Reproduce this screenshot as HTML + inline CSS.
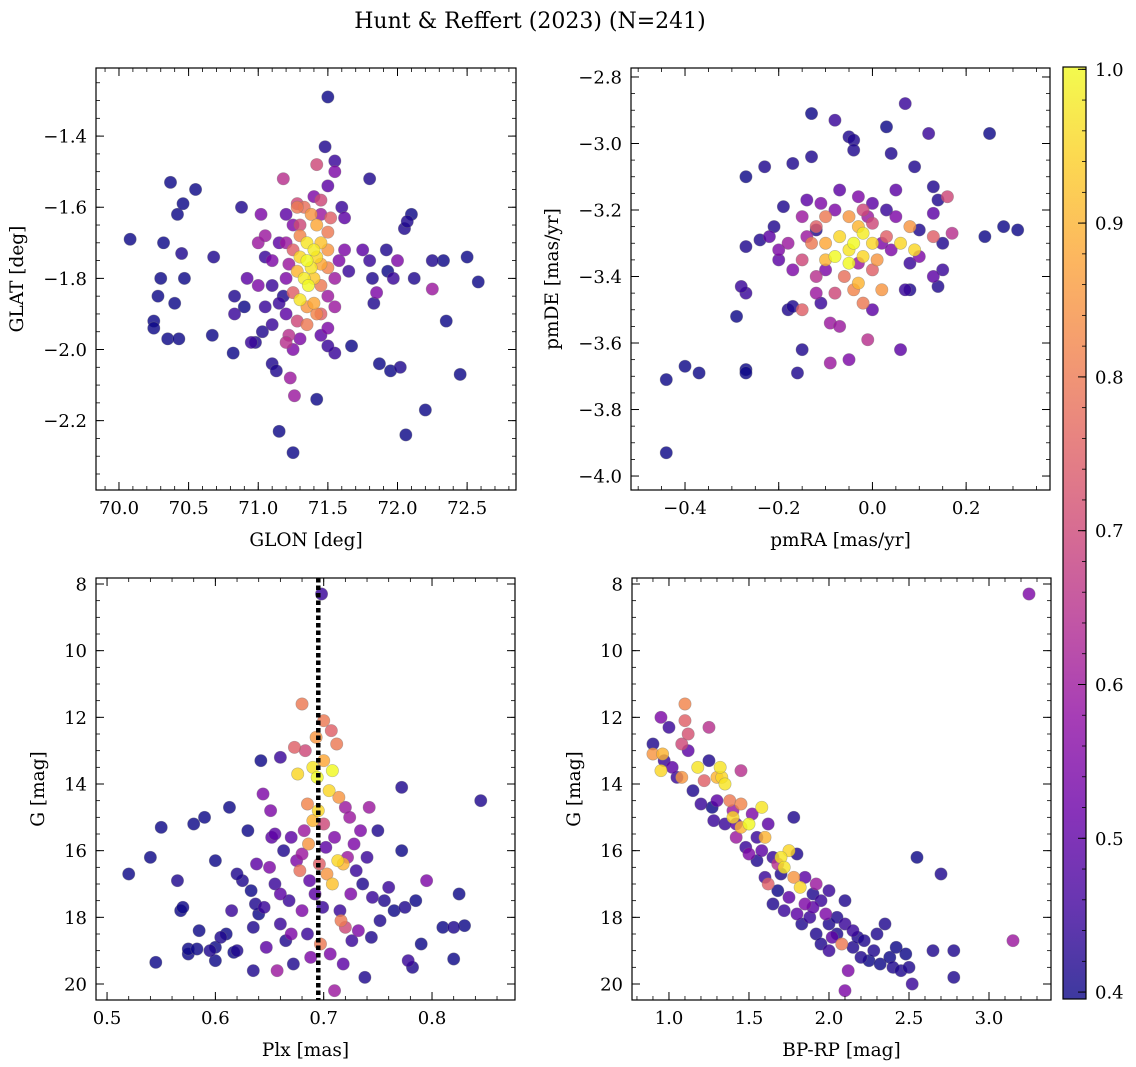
<!DOCTYPE html>
<html><head><meta charset="utf-8"><style>
html,body{margin:0;padding:0;background:#fff;}
svg{display:block;font-family:"DejaVu Serif","Liberation Serif",serif;}
</style></head><body>
<svg id="fig" width="1136" height="1067" viewBox="0 0 1136 1067" xmlns="http://www.w3.org/2000/svg">
<defs>
<linearGradient id="plasma" x1="0" y1="1" x2="0" y2="0">
<stop offset="0" stop-color="#0d0887"/><stop offset="0.1" stop-color="#41049d"/><stop offset="0.2" stop-color="#6a00a8"/><stop offset="0.3" stop-color="#8f0da4"/><stop offset="0.4" stop-color="#b12a90"/><stop offset="0.5" stop-color="#cc4778"/><stop offset="0.6" stop-color="#e16462"/><stop offset="0.7" stop-color="#f2844b"/><stop offset="0.8" stop-color="#fca636"/><stop offset="0.9" stop-color="#fcce25"/><stop offset="1" stop-color="#f0f921"/>
</linearGradient>
</defs>
<text x="530" y="28" font-size="22" text-anchor="middle">Hunt &amp; Reffert (2023) (N=241)</text>
</svg>
<script>
const glonGlat = [[70.08,-1.69,0.4],[70.25,-1.92,0.4],[70.25,-1.94,0.4],[70.28,-1.85,0.4],[70.3,-1.8,0.4],[70.32,-1.7,0.4],[70.35,-1.97,0.4],[70.37,-1.53,0.4],[70.4,-1.87,0.4],[70.42,-1.62,0.4],[70.43,-1.97,0.4],[70.45,-1.73,0.42],[70.46,-1.59,0.4],[70.47,-1.8,0.4],[70.55,-1.55,0.4],[70.67,-1.96,0.4],[70.68,-1.74,0.42],[70.82,-2.01,0.4],[70.83,-1.85,0.42],[70.83,-1.9,0.45],[70.88,-1.6,0.42],[70.9,-1.88,0.4],[70.92,-1.8,0.5],[70.95,-1.98,0.45],[70.98,-1.98,0.42],[71.0,-1.82,0.55],[71.02,-1.62,0.55],[71.0,-1.7,0.6],[71.03,-1.95,0.42],[71.05,-1.74,0.45],[71.05,-1.88,0.45],[71.1,-2.04,0.42],[71.13,-2.06,0.42],[71.15,-2.23,0.4],[71.18,-1.52,0.65],[71.2,-1.7,0.6],[71.22,-1.96,0.65],[71.23,-2.08,0.6],[71.25,-2.29,0.4],[71.26,-2.13,0.6],[71.28,-1.59,0.7],[71.3,-1.65,0.7],
[71.5,-1.29,0.4],[71.48,-1.43,0.42],[71.55,-1.47,0.45],[71.5,-1.54,0.5],[71.55,-1.5,0.55],[71.6,-1.6,0.45],[71.62,-1.63,0.5],[71.62,-1.72,0.55],[71.65,-1.78,0.45],[71.67,-1.99,0.4],[71.55,-2.01,0.45],[71.5,-1.99,0.45],[71.42,-2.14,0.4],[71.75,-1.72,0.5],[71.8,-1.52,0.42],[71.8,-1.75,0.45],[71.82,-1.8,0.42],[71.83,-1.87,0.42],[71.85,-1.84,0.55],[71.87,-2.04,0.4],[71.92,-1.72,0.42],[71.93,-1.78,0.4],[71.95,-2.06,0.4],[71.97,-1.8,0.45],[72.0,-1.75,0.55],[72.02,-2.05,0.42],[72.06,-2.24,0.4],[72.05,-1.66,0.42],[72.07,-1.64,0.42],[72.1,-1.62,0.4],[72.12,-1.8,0.42],[72.2,-2.17,0.4],[72.25,-1.75,0.42],[72.25,-1.83,0.6],[72.33,-1.75,0.4],[72.35,-1.92,0.4],[72.45,-2.07,0.4],[72.5,-1.74,0.4],[72.58,-1.81,0.4],[71.4,-1.57,0.55],[71.42,-1.48,0.7],
[71.2,-1.62,0.5],[71.25,-1.65,0.55],[71.28,-1.6,0.8],[71.33,-1.6,0.78],[71.38,-1.62,0.85],[71.42,-1.65,0.88],[71.45,-1.62,0.6],[71.3,-1.68,0.82],[71.35,-1.7,0.97],[71.4,-1.72,0.98],[71.45,-1.7,0.92],[71.5,-1.72,0.85],[71.25,-1.72,0.75],[71.3,-1.74,0.95],[71.35,-1.75,1.0],[71.38,-1.77,0.97],[71.42,-1.74,0.95],[71.45,-1.76,0.88],[71.5,-1.77,0.82],[71.22,-1.76,0.6],[71.28,-1.78,0.9],[71.33,-1.8,0.98],[71.36,-1.82,1.0],[71.4,-1.8,0.93],[71.45,-1.82,0.8],[71.2,-1.8,0.55],[71.25,-1.84,0.75],[71.3,-1.86,0.97],[71.35,-1.88,0.85],[71.4,-1.87,0.88],[71.45,-1.9,0.75],[71.5,-1.85,0.6],[71.15,-1.87,0.45],[71.2,-1.9,0.5],[71.28,-1.92,0.7],[71.35,-1.93,0.8],[71.42,-1.9,0.82],[71.5,-1.94,0.55],[71.55,-1.88,0.6],[71.3,-1.97,0.55],[71.2,-1.98,0.65],[71.25,-2.0,0.55],[71.45,-1.96,0.5],[71.55,-1.8,0.6],[71.58,-1.75,0.55],[71.1,-1.75,0.55],[71.15,-1.7,0.5],[71.1,-1.82,0.45],[71.05,-1.68,0.6],[71.45,-1.58,0.7],[71.5,-1.67,0.8],[71.52,-1.63,0.75],[71.18,-1.85,0.42],[71.1,-1.93,0.45]];
const pmRaDe = [[-0.44,-3.93,0.4],[-0.44,-3.71,0.4],[-0.4,-3.67,0.4],[-0.37,-3.69,0.4],[-0.29,-3.52,0.4],[-0.27,-3.45,0.45],[-0.27,-3.68,0.4],[-0.27,-3.69,0.4],[-0.27,-3.1,0.4],[-0.27,-3.31,0.42],[-0.28,-3.43,0.45],[-0.24,-3.29,0.42],[-0.23,-3.07,0.42],[-0.22,-3.28,0.5],[-0.21,-3.25,0.42],[-0.2,-3.35,0.5],[-0.19,-3.19,0.42],[-0.18,-3.5,0.42],[-0.17,-3.49,0.42],[-0.17,-3.06,0.42],[-0.16,-3.69,0.42],[-0.15,-3.62,0.42],[-0.15,-3.5,0.75],[-0.14,-3.17,0.5],[-0.13,-2.91,0.4],[-0.13,-3.04,0.42],[-0.12,-3.26,0.42],[-0.11,-3.48,0.45],[-0.1,-3.38,0.55],[-0.09,-3.54,0.6],[-0.09,-3.66,0.6],[-0.08,-2.93,0.45],[-0.07,-3.55,0.6],[-0.05,-2.98,0.42],[-0.05,-3.65,0.55],[-0.04,-2.99,0.42],[-0.04,-3.02,0.42],[-0.02,-3.2,0.7],[-0.01,-3.59,0.65],[0.0,-3.5,0.5],[0.03,-2.95,0.4],[0.04,-3.03,0.42],[0.05,-3.14,0.5],[0.06,-3.62,0.5],[0.07,-2.88,0.45],[0.07,-3.44,0.45],[0.08,-3.36,0.45],[0.08,-3.44,0.42],[0.09,-3.07,0.42],[0.1,-3.26,0.42],[0.12,-2.97,0.45],[0.13,-3.13,0.42],[0.13,-3.21,0.5],[0.13,-3.28,0.75],[0.13,-3.4,0.5],[0.14,-3.43,0.42],[0.14,-3.17,0.42],[0.15,-3.3,0.42],[0.15,-3.38,0.45],[0.16,-3.16,0.7],[0.17,-3.27,0.65],[0.24,-3.28,0.4],[0.25,-2.97,0.4],[0.28,-3.25,0.4],[0.31,-3.26,0.4],[-0.03,-3.36,0.6],[0.02,-3.3,0.55],
[-0.15,-3.22,0.6],[-0.12,-3.25,0.75],[-0.1,-3.22,0.8],[-0.08,-3.2,0.55],[-0.05,-3.22,0.85],[-0.03,-3.25,0.9],[0.0,-3.24,0.7],[-0.13,-3.3,0.8],[-0.1,-3.3,0.88],[-0.07,-3.28,0.95],[-0.04,-3.3,1.0],[-0.02,-3.27,0.98],[0.0,-3.3,0.95],[0.03,-3.28,0.75],[0.06,-3.3,0.95],[0.09,-3.32,0.95],[-0.15,-3.35,0.7],[-0.1,-3.35,0.9],[-0.08,-3.34,1.0],[-0.05,-3.36,1.0],[-0.02,-3.34,0.95],[0.01,-3.35,0.85],[0.04,-3.32,0.55],[-0.18,-3.3,0.6],[-0.2,-3.32,0.55],[-0.17,-3.38,0.55],[-0.12,-3.4,0.65],[-0.06,-3.4,0.78],[-0.03,-3.42,0.9],[0.0,-3.38,0.75],[-0.04,-3.44,0.82],[-0.08,-3.45,0.7],[-0.02,-3.48,0.8],[0.02,-3.44,0.85],[-0.12,-3.45,0.6],[-0.07,-3.14,0.5],[-0.03,-3.16,0.55],[0.0,-3.18,0.5],[0.03,-3.2,0.45],[-0.11,-3.18,0.55],[-0.05,-3.32,0.97],[-0.14,-3.28,0.6],[0.05,-3.22,0.55],[0.08,-3.25,0.85],[0.1,-3.34,0.55],[-0.01,-3.22,0.6]];
const plxG = [[0.52,16.7,0.4],[0.54,16.2,0.4],[0.545,19.35,0.4],[0.55,15.3,0.4],[0.565,16.9,0.42],[0.568,17.8,0.4],[0.57,17.7,0.4],[0.575,19.1,0.4],[0.575,18.95,0.4],[0.58,15.2,0.4],[0.583,18.95,0.4],[0.585,18.4,0.4],[0.59,15.0,0.4],[0.595,19.0,0.42],[0.6,16.3,0.4],[0.6,18.9,0.4],[0.6,19.3,0.4],[0.605,18.6,0.42],[0.61,18.5,0.4],[0.613,14.7,0.4],[0.615,17.8,0.45],[0.617,19.05,0.4],[0.62,19.0,0.42],[0.625,16.9,0.42],[0.63,15.4,0.4],[0.633,17.2,0.4],[0.635,18.3,0.42],[0.635,19.6,0.42],[0.637,17.6,0.42],[0.638,16.4,0.5],[0.64,17.9,0.4],[0.642,13.3,0.4],[0.644,14.3,0.55],[0.645,17.7,0.45],[0.647,18.9,0.5],[0.65,16.5,0.55],[0.651,14.8,0.55],[0.652,15.6,0.5],[0.655,17.0,0.45],[0.657,19.6,0.6],[0.66,17.3,0.5],[0.66,13.2,0.45],[0.66,18.2,0.45],[0.663,16.0,0.42],[0.665,18.7,0.42],[0.668,17.5,0.45],[0.67,15.6,0.5],[0.67,18.5,0.55],[0.672,19.4,0.42],[0.673,12.9,0.75],[0.675,16.3,0.55],[0.676,13.7,0.95],[0.678,16.6,0.78],[0.68,17.8,0.55],[0.68,11.6,0.8],[0.682,15.4,0.6],[0.683,13.0,0.7],[0.685,18.5,0.45],[0.685,14.6,0.82],[0.686,15.8,0.85],[0.687,16.9,0.5],[0.688,19.2,0.55],[0.69,13.5,0.97],[0.69,15.1,0.9],[0.692,17.3,0.5],[0.693,12.6,0.85],[0.694,13.8,1.0],[0.695,14.8,0.95],[0.696,16.4,0.75],[0.697,18.8,0.8],[0.698,8.3,0.45],[0.699,17.7,0.45],[0.7,12.1,0.8],[0.7,13.3,0.88],[0.702,15.9,0.5],[0.703,16.7,0.85],[0.705,14.2,0.95],[0.706,19.1,0.55],[0.707,12.4,0.75],[0.708,13.6,1.0],[0.708,17.0,0.92],[0.71,20.2,0.6],[0.71,15.6,0.55],[0.712,12.8,0.8],[0.713,16.3,0.95],[0.714,14.4,0.85],[0.715,17.8,0.45],[0.716,18.1,0.8],[0.718,16.4,0.9],[0.718,19.4,0.5],[0.72,14.7,0.6],[0.72,18.3,0.7],[0.722,16.2,0.6],[0.724,15.0,0.6],[0.725,17.3,0.55],[0.726,18.7,0.45],[0.728,15.8,0.55],[0.73,16.6,0.45],[0.732,18.4,0.55],[0.734,15.4,0.55],[0.736,17.0,0.42],[0.738,19.8,0.42],[0.74,16.2,0.45],[0.742,14.7,0.6],[0.744,18.6,0.42],[0.745,17.4,0.45],[0.75,15.4,0.42],[0.752,18.1,0.42],[0.756,17.5,0.42],[0.76,17.1,0.45],[0.765,17.8,0.4],[0.772,14.1,0.42],[0.772,16.0,0.4],[0.775,17.7,0.42],[0.778,19.3,0.45],[0.782,19.5,0.42],[0.785,17.5,0.4],[0.79,18.8,0.4],[0.795,16.9,0.55],[0.81,18.3,0.4],[0.82,18.3,0.42],[0.82,19.25,0.4],[0.825,17.3,0.4],[0.83,18.25,0.4],[0.845,14.5,0.42],[0.62,16.7,0.42],[0.655,15.5,0.5],[0.7,15.2,0.7],[0.68,16.1,0.6]];
const bprpG = [[3.25,8.3,0.55],[3.15,18.7,0.6],[2.1,20.2,0.55],[0.9,12.8,0.42],[0.9,13.1,0.85],[0.95,12.0,0.55],[0.95,13.6,0.95],[0.96,13.1,0.9],[0.97,13.3,0.45],[1.0,12.3,0.45],[1.02,13.5,0.5],[1.05,13.8,0.45],[1.08,12.8,0.7],[1.08,13.8,0.85],[1.1,11.6,0.82],[1.1,12.1,0.75],[1.12,12.5,0.72],[1.12,13.0,0.5],[1.15,14.2,0.42],[1.18,13.5,0.97],[1.2,14.6,0.45],[1.22,13.9,0.75],[1.25,12.3,0.65],[1.25,13.3,0.42],[1.27,14.7,0.4],[1.28,15.1,0.45],[1.3,14.5,0.5],[1.32,13.5,0.97],[1.33,13.8,0.95],[1.35,14.0,0.97],[1.35,15.2,0.45],[1.38,14.5,0.8],[1.4,14.8,0.6],[1.42,15.2,0.5],[1.42,15.6,0.6],[1.45,15.3,0.9],[1.45,13.6,0.65],[1.48,15.9,0.45],[1.5,15.2,1.0],[1.52,14.9,0.55],[1.55,15.6,0.45],[1.55,16.3,0.42],[1.58,14.7,0.97],[1.6,16.8,0.45],[1.6,15.6,0.9],[1.62,17.0,0.75],[1.62,15.2,0.5],[1.65,17.6,0.42],[1.65,16.2,0.45],[1.68,16.4,0.65],[1.7,16.7,0.42],[1.7,16.2,0.97],[1.72,17.8,0.45],[1.72,16.5,0.97],[1.75,17.4,0.5],[1.78,15.0,0.42],[1.78,16.8,0.85],[1.8,17.9,0.5],[1.8,16.1,0.42],[1.82,17.1,0.95],[1.83,18.2,0.42],[1.85,16.8,0.5],[1.85,17.6,0.55],[1.88,18.0,0.45],[1.9,17.3,0.42],[1.92,18.5,0.42],[1.92,17.0,0.6],[1.95,17.5,0.45],[1.95,18.8,0.42],[1.98,17.9,0.55],[2.0,18.2,0.42],[2.0,17.2,0.45],[2.02,18.6,0.5],[2.05,18.0,0.42],[2.05,18.5,0.42],[2.08,18.8,0.8],[2.1,17.5,0.42],[2.1,18.2,0.45],[2.12,19.6,0.55],[2.15,18.4,0.45],[2.15,18.9,0.42],[2.18,18.6,0.42],[2.2,19.2,0.42],[2.22,18.7,0.42],[2.25,19.3,0.4],[2.28,19.0,0.42],[2.3,18.5,0.42],[2.32,19.4,0.4],[2.35,18.2,0.42],[2.38,19.2,0.4],[2.4,19.5,0.42],[2.42,18.9,0.4],[2.45,19.6,0.42],[2.48,19.1,0.4],[2.5,19.5,0.42],[2.52,20.0,0.45],[2.55,16.2,0.4],[2.65,19.0,0.42],[2.7,16.7,0.42],[2.78,19.0,0.42],[2.78,19.8,0.42],[1.9,17.7,0.5],[1.45,14.6,0.82],[1.3,13.8,0.9],[1.4,15.0,0.95],[1.5,16.1,0.55],[1.68,17.2,0.4],[2.0,19.0,0.45],[1.75,16.0,0.95],[1.58,16.0,0.5]];
const plxLine = 0.695;
const cTicks = [0.4,0.5,0.6,0.7,0.8,0.9,1.0];

const NS='http://www.w3.org/2000/svg';
const svg=document.getElementById('fig');
function mk(tag,attrs,parent){const e=document.createElementNS(NS,tag);for(const k in attrs)e.setAttribute(k,attrs[k]);(parent||svg).appendChild(e);return e;}
const stops=[[13,8,135],[65,4,157],[106,0,168],[143,13,164],[177,42,144],[204,71,120],[225,100,98],[242,132,75],[252,166,54],[252,206,37],[240,249,33]];
function plasma(c){let t=Math.max(0,Math.min(1,(c-0.4)/0.6))*10;let i=Math.min(9,Math.floor(t));let f=t-i;const a=stops[i],b=stops[i+1];return `rgb(${a.map((v,k)=>Math.round(v+(b[k]-v)*f)).join(',')})`;}
function fmt(v,d){let s=v.toFixed(d);if(Math.abs(v)<1e-9)s=(0).toFixed(d);return s.replace('-','−');}

function panel(o){
  const g=mk('g',{});
  
  
  const L=o.L,R=o.R,T=o.T,B=o.B;
  const sx=v=>L+(v-o.x0)/(o.x1-o.x0)*(R-L);
  const sy=v=>o.yinv? T+(v-o.y0)/(o.y1-o.y0)*(B-T) : B-(v-o.y0)/(o.y1-o.y0)*(B-T);
  const pts=o.data.slice().sort((a,b)=>a[2]-b[2]);
  const pg=mk('g',{},g);
  
  
  pts.forEach(p=>{const c=mk('circle',{cx:sx(p[0]),cy:sy(p[1]),r:6.2,fill:plasma(p[2]),'fill-opacity':0.82,stroke:'#777','stroke-opacity':0.5,'stroke-width':0.6},pg);
    
    });
  if(o.vline!==undefined){const l=mk('line',{x1:sx(o.vline),x2:sx(o.vline),y1:T,y2:B,stroke:'#000','stroke-width':4.5,'stroke-dasharray':'4.5,3'},g);
    
    }
  const fr=mk('rect',{x:L,y:T,width:R-L,height:B-T,fill:'none',stroke:'#000','stroke-width':1.2},g);
  
  
  const eps=1e-9;
  for(let k=Math.ceil(o.x0/o.xmin-eps);k*o.xmin<=o.x1+eps;k++){const x=sx(k*o.xmin);mk('line',{x1:x,x2:x,y1:B,y2:B-4,stroke:'#000','stroke-width':0.8},g);mk('line',{x1:x,x2:x,y1:T,y2:T+4,stroke:'#000','stroke-width':0.8},g);}
  for(let k=Math.ceil(o.x0/o.xmaj-eps);k*o.xmaj<=o.x1+eps;k++){const v=k*o.xmaj,x=sx(v);mk('line',{x1:x,x2:x,y1:B,y2:B-8,stroke:'#000','stroke-width':1},g);mk('line',{x1:x,x2:x,y1:T,y2:T+8,stroke:'#000','stroke-width':1},g);
    const t=mk('text',{x:x,y:B+24,'font-size':18,'text-anchor':'middle'},g);t.textContent=fmt(v,o.xd);
    
    }
  for(let k=Math.ceil(o.y0/o.ymin-eps);k*o.ymin<=o.y1+eps;k++){const y=sy(k*o.ymin);mk('line',{x1:L,x2:L+4,y1:y,y2:y,stroke:'#000','stroke-width':0.8},g);mk('line',{x1:R,x2:R-4,y1:y,y2:y,stroke:'#000','stroke-width':0.8},g);}
  for(let k=Math.ceil(o.y0/o.ymaj-eps);k*o.ymaj<=o.y1+eps;k++){const v=k*o.ymaj,y=sy(v);mk('line',{x1:L,x2:L+8,y1:y,y2:y,stroke:'#000','stroke-width':1},g);mk('line',{x1:R,x2:R-8,y1:y,y2:y,stroke:'#000','stroke-width':1},g);
    const t=mk('text',{x:L-9,y:y+6.5,'font-size':18,'text-anchor':'end'},g);t.textContent=fmt(v,o.yd);
    
    }
  const xl=mk('text',{x:(L+R)/2,y:B+56,'font-size':18.5,'text-anchor':'middle'},g);xl.textContent=o.xlabel;
  
  
  const yl=mk('text',{x:0,y:0,'font-size':18.5,'text-anchor':'middle',transform:`translate(${o.ylx},${(T+B)/2}) rotate(-90)`},g);yl.textContent=o.ylabel;
  
  
}
panel({name:'glon-glat-panel',data:glonGlat,L:96,R:516,T:68,B:490,x0:69.835,x1:72.851,y0:-2.395,y1:-1.2085,xmaj:0.5,xmin:0.1,ymaj:0.2,ymin:0.05,xd:1,yd:1,xlabel:'GLON [deg]',ylabel:'GLAT [deg]',ylx:23});
panel({name:'proper-motion-panel',data:pmRaDe,L:631,R:1050,T:68,B:490,x0:-0.5153,x1:0.379,y0:-4.042,y1:-2.773,xmaj:0.2,xmin:0.05,ymaj:0.2,ymin:0.05,xd:1,yd:1,xlabel:'pmRA [mas/yr]',ylabel:'pmDE [mas/yr]',ylx:558});
panel({name:'plx-g-panel',data:plxG,L:96,R:515,T:578,B:1000,x0:0.4898,x1:0.8766,y0:7.82,y1:20.48,yinv:true,xmaj:0.1,xmin:0.02,ymaj:2,ymin:0.5,xd:1,yd:0,xlabel:'Plx [mas]',ylabel:'G [mag]',ylx:44,vline:plxLine});
panel({name:'cmd-panel',data:bprpG,L:632,R:1051,T:578,B:1000,x0:0.769,x1:3.3875,y0:7.82,y1:20.48,yinv:true,xmaj:0.5,xmin:0.1,ymaj:2,ymin:0.5,xd:1,yd:0,xlabel:'BP-RP [mag]',ylabel:'G [mag]',ylx:580});
const cb=mk('g',{});


const cT=67,cB=999,cL=1063,cR=1086;
const cy=v=>cB-(v-0.3955)/(1.0015-0.3955)*(cB-cT);
mk('rect',{x:cL,y:cT,width:cR-cL,height:cB-cT,fill:'url(#plasma)','fill-opacity':0.8},cb);
mk('rect',{x:cL,y:cT,width:cR-cL,height:cB-cT,fill:'none',stroke:'#000','stroke-width':1.2},cb);
for(let k=20;k<=50;k++){const y=cy(k*0.02);mk('line',{x1:cR,x2:cR-4,y1:y,y2:y,stroke:'#000','stroke-width':0.8},cb);}
cTicks.forEach(v=>{const y=cy(v);mk('line',{x1:cR,x2:cR-8,y1:y,y2:y,stroke:'#000','stroke-width':1},cb);
  const t=mk('text',{x:cR+9,y:y+6.5,'font-size':18},cb);t.textContent=v.toFixed(1);
  
  });
</script>
</body></html>
